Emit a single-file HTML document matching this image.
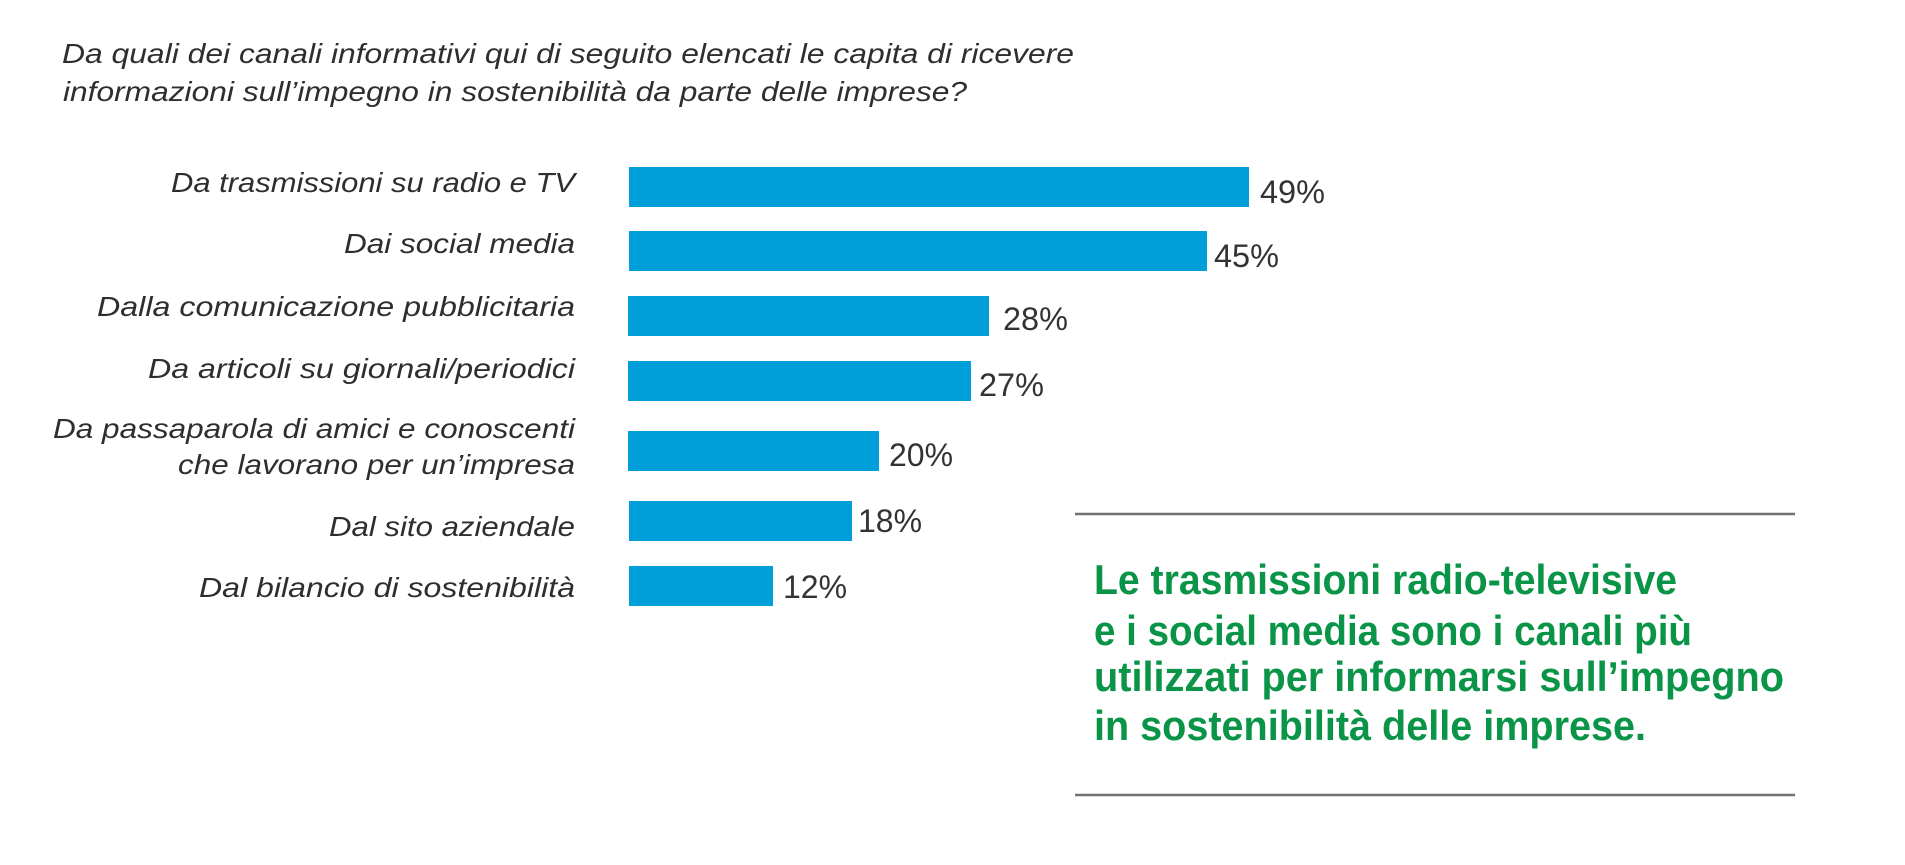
<!DOCTYPE html>
<html>
<head>
<meta charset="utf-8">
<style>
html,body{margin:0;padding:0;background:#fff;}
svg{display:block;}
.t{font-family:"Liberation Sans",sans-serif;font-style:italic;font-size:28px;fill:#2e2e2e;}
.v{font-family:"Liberation Sans",sans-serif;font-size:32px;fill:#333;}
.g{font-family:"Liberation Sans",sans-serif;font-weight:bold;font-size:42px;fill:#0a9447;}
</style>
</head>
<body>
<svg width="1905" height="865" viewBox="0 0 1905 865" xmlns="http://www.w3.org/2000/svg">
<rect width="1905" height="865" fill="#fff"/>
<!-- title -->
<text class="t" x="62" y="63" textLength="1012" lengthAdjust="spacingAndGlyphs">Da quali dei canali informativi qui di seguito elencati le capita di ricevere</text>
<text class="t" x="63" y="101" textLength="904" lengthAdjust="spacingAndGlyphs">informazioni sull’impegno in sostenibilità da parte delle imprese?</text>

<!-- labels -->
<text class="t" x="575" y="192" text-anchor="end" textLength="404" lengthAdjust="spacingAndGlyphs">Da trasmissioni su radio e TV</text>
<text class="t" x="575" y="253" text-anchor="end" textLength="231" lengthAdjust="spacingAndGlyphs">Dai social media</text>
<text class="t" x="575" y="316" text-anchor="end" textLength="478" lengthAdjust="spacingAndGlyphs">Dalla comunicazione pubblicitaria</text>
<text class="t" x="575" y="378" text-anchor="end" textLength="427" lengthAdjust="spacingAndGlyphs">Da articoli su giornali/periodici</text>
<text class="t" x="575" y="438" text-anchor="end" textLength="522" lengthAdjust="spacingAndGlyphs">Da passaparola di amici e conoscenti</text>
<text class="t" x="575" y="474" text-anchor="end" textLength="397" lengthAdjust="spacingAndGlyphs">che lavorano per un’impresa</text>
<text class="t" x="575" y="536" text-anchor="end" textLength="246" lengthAdjust="spacingAndGlyphs">Dal sito aziendale</text>
<text class="t" x="575" y="597" text-anchor="end" textLength="376" lengthAdjust="spacingAndGlyphs">Dal bilancio di sostenibilità</text>

<!-- bars -->
<g fill="#009fd9">
<rect x="629" y="167" width="620" height="40"/>
<rect x="629" y="231" width="578" height="40"/>
<rect x="628" y="296" width="361" height="40"/>
<rect x="628" y="361" width="343" height="40"/>
<rect x="628" y="431" width="251" height="40"/>
<rect x="629" y="501" width="223" height="40"/>
<rect x="629" y="566" width="144" height="40"/>
</g>

<!-- values -->
<text class="v" x="1260" y="203" textLength="65" lengthAdjust="spacingAndGlyphs">49%</text>
<text class="v" x="1214" y="267" textLength="65" lengthAdjust="spacingAndGlyphs">45%</text>
<text class="v" x="1003" y="330" textLength="65" lengthAdjust="spacingAndGlyphs">28%</text>
<text class="v" x="979" y="396" textLength="65" lengthAdjust="spacingAndGlyphs">27%</text>
<text class="v" x="889" y="466" textLength="64" lengthAdjust="spacingAndGlyphs">20%</text>
<text class="v" x="858" y="532" textLength="64" lengthAdjust="spacingAndGlyphs">18%</text>
<text class="v" x="783" y="598" textLength="64" lengthAdjust="spacingAndGlyphs">12%</text>

<!-- callout -->
<line x1="1075" y1="514" x2="1795" y2="514" stroke="#707070" stroke-width="2.5"/>
<line x1="1075" y1="795" x2="1795" y2="795" stroke="#707070" stroke-width="2.5"/>
<text class="g" x="1094" y="594" textLength="583" lengthAdjust="spacingAndGlyphs">Le trasmissioni radio-televisive</text>
<text class="g" x="1094" y="645" textLength="598" lengthAdjust="spacingAndGlyphs">e i social media sono i canali più</text>
<text class="g" x="1094" y="691" textLength="690" lengthAdjust="spacingAndGlyphs">utilizzati per informarsi sull’impegno</text>
<text class="g" x="1094" y="740" textLength="552" lengthAdjust="spacingAndGlyphs">in sostenibilità delle imprese.</text>
</svg>
</body>
</html>
